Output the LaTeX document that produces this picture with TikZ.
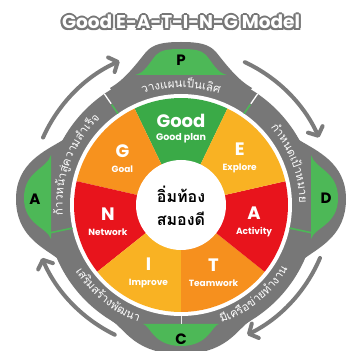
\documentclass[tikz,border=0pt]{standalone}
\usepackage{fontspec}
\setmainfont{Poppins}
\newfontfamily\thai[Script=Thai]{Loma}
\usetikzlibrary{arrows.meta}
\definecolor{ringgray}{HTML}{777777}
\definecolor{arrgray}{HTML}{7B7B7B}
\definecolor{pgreen}{HTML}{4DB857}
\definecolor{ggreen}{HTML}{3AAA47}
\definecolor{gorange}{HTML}{F7921E}
\definecolor{gyellow}{HTML}{F9B223}
\definecolor{gred}{HTML}{E8141C}
\definecolor{torange}{HTML}{F6901E}
\newdimen\clw \newdimen\totw
\newbox\clbox \newbox\scratchbox
\newcommand\ringfont{\thai\fontsize{11.5}{13}\selectfont}
% measure outside the picture: #1 name, #2 clusters
\newcommand\prepring[2]{%
  \global\totw=0pt
  \gdef\tmplist{}%
  \foreach \cl in {#2}{%
    \setbox\clbox\hbox{\ringfont\cl}%
    \clw=\wd\clbox
    \pgfmathsetmacro\cpos{\the\totw + 0.5*\the\clw}%
    \xdef\tmplist{\tmplist\ifx\tmplist\empty\else,\fi\cl/\cpos}%
    \global\advance\totw by \clw
  }%
  \expandafter\xdef\csname rl@#1\endcsname{\tmplist}%
  \expandafter\xdef\csname rt@#1\endcsname{\the\totw}%
}
% draw inside: #1 name, #2 mid angle, #3 baseline radius, #4 dir (1 cw tops out, -1 ccw tops in)
\newcommand\drawring[4]{%
  \edef\rlist{\csname rl@#1\endcsname}%
  \pgfmathsetmacro\tot{\csname rt@#1\endcsname}%
  \foreach \cl/\cpos in \rlist {%
    \pgfmathsetmacro\ang{#2 + (#4)*(0.5*\tot - \cpos)/(#3)*180/pi}%
    \pgfmathsetmacro\rot{\ang - 90*(#4)}%
    \node[ringlbl, rotate=\rot] at ([shift={(\ang:#3pt)}]O) {\cl};
  }%
}
\begin{document}
\setbox\scratchbox\vbox{%
\prepring{top}{ว,า,ง,แ,ผ,น,เ,ป็,น,เ,ลิ,ศ}%
\prepring{right}{กำ,ห,น,ด,เ,ป้,า,ห,ม,า,ย}%
\prepring{br}{มี,เ,ค,รื,อ,ข่,า,ย,ทำ,ง,า,น}%
\prepring{bl}{เ,ส,ริ,ม,ส,ร้,า,ง,พั,ฒ,น,า}%
\prepring{left}{ก้,า,ว,ห,น้,า,สู่,ค,ว,า,ม,สำ,เ,ร็,จ}%
}%
\begin{tikzpicture}[x=1pt,y=1pt,
  ringlbl/.style={text=white, inner sep=0pt, anchor=base, font=\ringfont},
  seglbl/.style={text=white, align=center, inner sep=0pt, font=\bfseries},
  pdca/.style={text=black, inner sep=0pt, font=\bfseries\fontsize{15}{15}\selectfont},
  cyc/.style={draw=arrgray, line width=4pt, line cap=round,
    -{Straight Barb[length=7pt,width=16pt,round]}},
  grnline/.style={draw=pgreen, line width=1.6pt},
  whtline/.style={draw=white, line width=1.3pt},
  titlefont/.style={inner sep=0pt, font=\bfseries\fontsize{18.5}{20}\selectfont}
]
\clip (0,0) rectangle (347,351);
\fill[white] (0,0) rectangle (347,351);
\coordinate (O) at (181,146);
\coordinate (O2) at (181,152);
% gray bells
\fill[ringgray] (110,263) .. controls (124,271) and (134,284) .. (146,299) .. controls (153,307) and (163,309) .. (181,309) .. controls (199,309) and (209,307) .. (216,299) .. controls (228,284) and (238,271) .. (252,263) -- (O) -- cycle;
\fill[ringgray] (112,30) .. controls (125,22) and (135,-3) .. (181,-3) .. controls (227,-3) and (237,22) .. (250,30) -- (O) -- cycle;
\fill[ringgray] (63,211) .. controls (45,200) and (16,188) .. (16,152) .. controls (16,116) and (42,104) .. (57,93) -- (O) -- cycle;
\fill[ringgray] (299,211) .. controls (317,200) and (346,188) .. (346,152) .. controls (346,116) and (320,104) .. (305,93) -- (O) -- cycle;
% ring
\fill[ringgray] (O) circle[radius=135pt];
% green bells
\fill[pgreen] (135,276) .. controls (145,278) and (149,288) .. (156,296) .. controls (161,301) and (168,302) .. (181,302) .. controls (194,302) and (201,301) .. (206,296) .. controls (213,288) and (217,278) .. (227,276) -- cycle;
\fill[pgreen] (143,27) .. controls (150,26) and (153,5) .. (181,5) .. controls (209,5) and (212,26) .. (219,27) -- cycle;
\fill[pgreen] (51,196) .. controls (47,182) and (24,180) .. (24,153) .. controls (24,126) and (47,124) .. (51,112) -- cycle;
\fill[pgreen] (311,196) .. controls (315,182) and (338,180) .. (338,153) .. controls (338,126) and (315,124) .. (311,112) -- cycle;
% white gap
\fill[white] (O) circle[radius=111pt];
% wedges
\fill[ggreen] (O) -- ++(64.29:107pt) arc[start angle=64.29, end angle=115.71, radius=107pt] -- cycle;
\fill[gorange] (O) -- ++(115.71:107pt) arc[start angle=115.71, end angle=167.14, radius=107pt] -- cycle;
\fill[gred] (O) -- ++(167.14:107pt) arc[start angle=167.14, end angle=218.57, radius=107pt] -- cycle;
\fill[gyellow] (O) -- ++(218.57:107pt) arc[start angle=218.57, end angle=270, radius=107pt] -- cycle;
\fill[torange] (O) -- ++(270:107pt) arc[start angle=270, end angle=321.43, radius=107pt] -- cycle;
\fill[gred] (O) -- ++(321.43:107pt) arc[start angle=321.43, end angle=372.86, radius=107pt] -- cycle;
\fill[gyellow] (O) -- ++(12.86:107pt) arc[start angle=12.86, end angle=64.29, radius=107pt] -- cycle;
\fill[white] (O) circle[radius=45pt];
% dividers
\foreach \a in {55.4,124.6}{
  \draw[grnline] ([shift={(\a:111pt)}]O) -- ([shift={(\a:122pt)}]O);
  \draw[whtline] ([shift={(\a:123pt)}]O) -- ([shift={(\a:135pt)}]O);
}
\foreach \a in {-12,192}{
  \draw[grnline] ([shift={(\a:111pt)}]O) -- ([shift={(\a:133pt)}]O);
}
\draw[draw=white!85!gray, line width=1pt] ([shift={(270:111pt)}]O) -- ([shift={(270:119pt)}]O);
% ring texts
\drawring{top}{90}{117.5}{1}
\drawring{right}{21}{118.5}{1}
\drawring{br}{-51}{124.5}{-1}
\drawring{bl}{231}{124.5}{-1}
\drawring{left}{159}{118.5}{1}
% segment labels
\node[seglbl] (lGood) at ([shift={(90:76pt)}]O) {\fontsize{18}{18}\selectfont Good\\[1pt]\fontsize{9.5}{10}\selectfont Good plan};
\node[seglbl] (lG) at ([shift={(141.43:75pt)}]O) {\fontsize{18}{18}\selectfont G\\[3pt]\fontsize{9}{10}\selectfont Goal};
\node[seglbl] (lN) at ([shift={(192.86:75pt)}]O) {\fontsize{18}{18}\selectfont N\\[3pt]\fontsize{9}{10}\selectfont Network};
\node[seglbl] (lI) at ([shift={(244.29:75pt)}]O) {\fontsize{18}{18}\selectfont I\\[3pt]\fontsize{9}{10}\selectfont Improve};
\node[seglbl] (lT) at ([shift={(295.71:75pt)}]O) {\fontsize{18}{18}\selectfont T\\[3pt]\fontsize{9}{10}\selectfont Teamwork};
\node[seglbl] (lA) at ([shift={(347.14:75pt)}]O) {\fontsize{18}{18}\selectfont A\\[3pt]\fontsize{9}{10}\selectfont Activity};
\node[seglbl] (lE) at ([shift={(38.57:75pt)}]O) {\fontsize{18}{18}\selectfont E\\[3pt]\fontsize{9}{10}\selectfont Explore};
\node[align=center, inner sep=0pt, font=\thai\bfseries\fontsize{16}{23}\selectfont] (center) at ([yshift=-1pt]O) {อิ่มท้อง\\สมองดี};
% PDCA
\node[pdca] (P) at (181,291) {P};
\node[pdca] (D) at (326,153) {D};
\node[pdca] (C) at (181,12) {C};
\node[pdca] (Aa) at (35,152) {A};
% cycle arrows
\draw[cyc] ([shift={(156:151pt)}]O2) arc[start angle=156, end angle=114, radius=151pt];
\draw[cyc] ([shift={(65:151pt)}]O2) arc[start angle=65, end angle=24, radius=151pt];
\draw[cyc] ([shift={(-23:151pt)}]O2) arc[start angle=-23, end angle=-64, radius=151pt];
\draw[cyc] ([shift={(244:151pt)}]O2) arc[start angle=244, end angle=203, radius=151pt];
% title
\coordinate (T) at (181,329);
\foreach \a in {0,45,...,315}{
  \node[titlefont, text=ringgray] at ([shift={(\a:2.2pt)}]T) {Good E-A-T-I-N-G Model};
}
\node[titlefont, text=white] (title) at (T) {Good E-A-T-I-N-G Model};
\end{tikzpicture}
\end{document}
